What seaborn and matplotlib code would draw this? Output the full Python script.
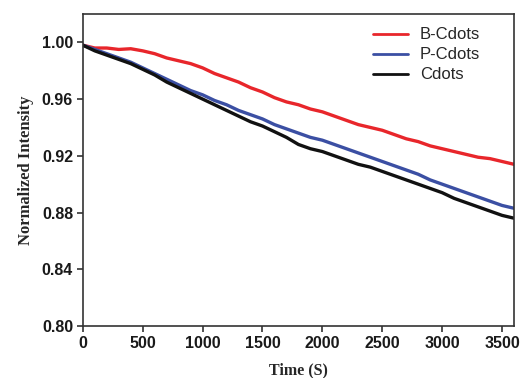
import numpy as np
import pandas as pd
import matplotlib
matplotlib.use("Agg")
import matplotlib.pyplot as plt
import seaborn as sns

# Photostability: normalized fluorescence intensity vs. irradiation time
time_s = list(range(0, 3601, 100))

b_cdots = [0.998, 0.996, 0.996, 0.995, 0.9955, 0.994, 0.992, 0.989, 0.987, 0.985,
           0.982, 0.978, 0.975, 0.972, 0.968, 0.965, 0.961, 0.958, 0.956, 0.953,
           0.951, 0.948, 0.945, 0.942, 0.940, 0.938, 0.935, 0.932, 0.930, 0.927,
           0.925, 0.923, 0.921, 0.919, 0.918, 0.916, 0.914]

p_cdots = [0.998, 0.995, 0.992, 0.989, 0.986, 0.982, 0.978, 0.974, 0.970, 0.966,
           0.963, 0.959, 0.956, 0.952, 0.949, 0.946, 0.942, 0.939, 0.936, 0.933,
           0.931, 0.928, 0.925, 0.922, 0.919, 0.916, 0.913, 0.910, 0.907, 0.903,
           0.900, 0.897, 0.894, 0.891, 0.888, 0.885, 0.883]

cdots = [0.998, 0.994, 0.991, 0.988, 0.985, 0.981, 0.977, 0.972, 0.968, 0.964,
         0.960, 0.956, 0.952, 0.948, 0.944, 0.941, 0.937, 0.933, 0.928, 0.925,
         0.923, 0.920, 0.917, 0.914, 0.912, 0.909, 0.906, 0.903, 0.900, 0.897,
         0.894, 0.890, 0.887, 0.884, 0.881, 0.878, 0.876]

series_names = ["B-Cdots", "P-Cdots", "Cdots"]
series_colors = ["#e8262b", "#3b4fa3", "#111111"]

df = pd.concat([
    pd.DataFrame({"Time": time_s, "Intensity": vals, "Sample": name})
    for name, vals in zip(series_names, [b_cdots, p_cdots, cdots])
], ignore_index=True)

sns.set_style("ticks")
plt.rcParams["font.family"] = ["Liberation Sans", "DejaVu Sans"]

fig = plt.figure(figsize=(5.21, 3.78), dpi=100)
ax = fig.add_axes([0.159, 0.1376, 0.8276, 0.8254])

sns.lineplot(data=df, x="Time", y="Intensity", hue="Sample",
             hue_order=series_names, palette=dict(zip(series_names, series_colors)),
             linewidth=2.4, ax=ax)

ax.set_xlim(0, 3600)
ax.set_ylim(0.80, 1.02)
ax.set_xticks([0, 500, 1000, 1500, 2000, 2500, 3000, 3500])
ax.set_yticks([0.80, 0.84, 0.88, 0.92, 0.96, 1.00])
ax.yaxis.set_major_formatter(matplotlib.ticker.FormatStrFormatter("%.2f"))

for side in ["left", "bottom", "top", "right"]:
    ax.spines[side].set_visible(True)
    ax.spines[side].set_color("#333333")
    ax.spines[side].set_linewidth(1.2)

ax.tick_params(axis="both", direction="out", length=4, width=1.2, color="#333333",
               labelsize=11.5, top=False, right=False)
ax.tick_params(axis="x", pad=3.5)
ax.tick_params(axis="y", pad=3)
for lab in ax.get_xticklabels() + ax.get_yticklabels():
    lab.set_fontweight("bold")
    lab.set_color("#1a1a1a")

ax.set_xlabel("Time (S)", family=["Liberation Serif", "DejaVu Serif"],
              fontweight="bold", fontsize=11.5, labelpad=8)
ax.set_ylabel("Normalized Intensity", family=["Liberation Serif", "DejaVu Serif"],
              fontweight="bold", fontsize=12, labelpad=6)

leg = ax.legend(loc="upper left", bbox_to_anchor=(0.673, 0.957), frameon=False,
                fontsize=12, handlelength=2.1, handletextpad=0.7,
                labelspacing=0.3, borderaxespad=0, borderpad=0)
for line in leg.get_lines():
    line.set_linewidth(2.0)

fig.savefig("out.png", dpi=100)
